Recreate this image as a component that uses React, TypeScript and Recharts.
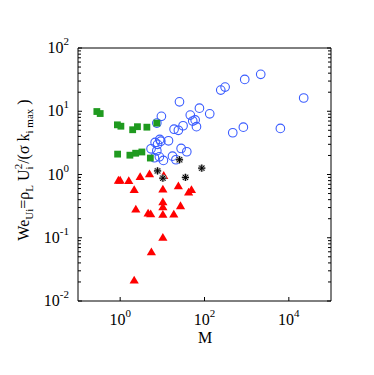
import React from 'react';
import { ScatterChart, Scatter, XAxis, YAxis } from 'recharts';

// green squares
const squareM = [0.28, 0.336, 0.86, 1.04, 1.98, 2.57, 4.3, 7.4, 0.87, 1.7, 2.33, 3.27, 5.2];
const squareWe = [9.9, 9.2, 6.1, 5.8, 5.1, 5.7, 5.6, 6.5, 2.1, 2.02, 2.17, 2.27, 1.82];

// blue open circles
const circleM = [
  25.5, 9.5, 7.4, 75.8, 133, 46, 52.6, 60, 64.5, 31, 19, 24, 243, 308, 900, 2155, 22500,
  468, 835, 6300, 14, 8.7, 6.75, 7.7, 5.4, 7.4, 27.9, 38, 8.5, 6.5, 10.6, 17.4, 21, 9.2,
];
const circleWe = [
  14.1, 8.3, 6.5, 11.2, 9.1, 8.7, 7.0, 7.3, 5.7, 5.9, 5.2, 5.0, 21.6, 24.1, 31.9, 38.3, 16.2,
  4.57, 5.6, 5.35, 3.41, 3.58, 3.21, 3.0, 2.55, 2.37, 2.58, 2.29, 1.9, 1.84, 1.67, 1.95, 1.71, 3.36,
];

// red triangles
const triM = [
  0.91, 1.0, 1.6, 2.98, 4.96, 10.8, 2.15, 10.3, 24, 49, 42, 10.3, 10.3, 27, 2.35, 4.6, 5.3,
  10.3, 18.7, 10.3, 5.5, 2.15,
];
const triWe = [
  0.8, 0.8, 0.79, 0.91, 1.01, 0.95, 0.57, 0.58, 0.65, 0.57, 0.52, 0.365, 0.304, 0.316, 0.279,
  0.241, 0.235, 0.23, 0.233, 0.1, 0.059, 0.021,
];

// black asterisks
const starM = [25.5, 7.7, 10.3, 35.3, 86];
const starWe = [1.71, 1.14, 0.875, 0.9, 1.26];

const xTicks = [1, 100, 10000];
const yMajor = [0.01, 0.1, 1, 10, 100];
const yMinor = yMajor.slice(0, -1).flatMap(d => [2, 3, 4, 5, 6, 7, 8, 9].map(k => d * k));
const yTicks = [...yMajor, ...yMinor];

const FONT = 'Liberation Serif, Times New Roman, serif';
const GREEN = '#1f9a1f';
const BLUE = '#3a5cff';
const RED = '#ff0000';

const zip = (xs: number[], ys: number[]) => xs.map((x, i) => ({ x, y: ys[i] }));

const isDecade = (v: number) => Math.abs(Math.log10(v) - Math.round(Math.log10(v))) < 1e-9;
const expOf = (v: number) => String(Math.round(Math.log10(v)));

const XTick = (props: any, side: 'bottom' | 'top') => {
  const { x, y } = props;
  const dir = side === 'bottom' ? -1 : 1;
  return (
    <g>
      <line x1={x} x2={x} y1={y} y2={y + dir * 4} stroke="#000" />
      {side === 'bottom' && (
        <text x={x} y={y + 24} textAnchor="middle" fontSize={16} fontFamily={FONT} fill="#000">
          10<tspan fontSize={11} dy={-8}>{expOf(props.payload.value)}</tspan>
        </text>
      )}
    </g>
  );
};

const YTick = (props: any, side: 'left' | 'right') => {
  const { x, y } = props;
  const v = props.payload.value;
  const major = isDecade(v);
  const dir = side === 'left' ? 1 : -1;
  return (
    <g>
      <line x1={x} x2={x + dir * (major ? 4 : 3)} y1={y} y2={y} stroke="#000" />
      {side === 'left' && major && (
        <text x={x - 9} y={y + 5} textAnchor="end" fontSize={16} fontFamily={FONT} fill="#000">
          10<tspan fontSize={11} dy={-8}>{expOf(v)}</tspan>
        </text>
      )}
    </g>
  );
};

const Square = (p: any) => (
  <rect x={p.cx - 3.4} y={p.cy - 3.4} width={6.8} height={6.8} fill={GREEN} />
);
const Ring = (p: any) => (
  <circle cx={p.cx} cy={p.cy} r={4.3} fill="none" stroke={BLUE} strokeWidth={1.1} />
);
const Tri = (p: any) => (
  <polygon
    points={`${p.cx},${p.cy - 4.8} ${p.cx + 4.6},${p.cy + 3} ${p.cx - 4.6},${p.cy + 3}`}
    fill={RED}
  />
);
const Star = (p: any) => {
  const { cx, cy } = p;
  const r = 3.6;
  const d = r * 0.72;
  const path = `M${cx - r},${cy}H${cx + r}M${cx},${cy - r}V${cy + r}M${cx - d},${cy - d}L${cx + d},${cy + d}M${cx - d},${cy + d}L${cx + d},${cy - d}`;
  return (
    <g>
      <path d={path} stroke="#aaa" strokeWidth={2.4} />
      <path d={path} stroke="#000" strokeWidth={1} />
    </g>
  );
};

export default function App() {
  return (
    <div style={{ position: 'absolute', left: 0, top: 0, width: 374, height: 375, background: '#fff' }}>
      <ScatterChart width={374} height={375} margin={{ top: 47, right: 42, bottom: 73, left: 77 }}>
        <XAxis
          dataKey="x"
          type="number"
          scale="log"
          domain={[0.1, 100000]}
          allowDataOverflow
          ticks={xTicks}
          interval={0}
          height={1}
          tickSize={0}
          tickMargin={0}
          tickLine={false}
          axisLine={{ stroke: '#000' }}
          tick={(p: any) => XTick(p, 'bottom')}
        />
        <XAxis
          xAxisId="top"
          orientation="top"
          type="number"
          scale="log"
          domain={[0.1, 100000]}
          allowDataOverflow
          ticks={xTicks}
          interval={0}
          height={1}
          tickSize={0}
          tickMargin={0}
          tickLine={false}
          axisLine={{ stroke: '#000' }}
          tick={(p: any) => XTick(p, 'top')}
        />
        <YAxis
          dataKey="y"
          type="number"
          scale="log"
          domain={[0.01, 100]}
          allowDataOverflow
          ticks={yTicks}
          interval={0}
          width={1}
          tickSize={0}
          tickMargin={0}
          tickLine={false}
          axisLine={{ stroke: '#000' }}
          tick={(p: any) => YTick(p, 'left')}
        />
        <YAxis
          yAxisId="right"
          orientation="right"
          type="number"
          scale="log"
          domain={[0.01, 100]}
          allowDataOverflow
          ticks={yTicks}
          interval={0}
          width={1}
          tickSize={0}
          tickMargin={0}
          tickLine={false}
          axisLine={{ stroke: '#000' }}
          tick={(p: any) => YTick(p, 'right')}
        />
        <Scatter data={zip(circleM, circleWe)} shape={Ring} isAnimationActive={false} />
        <Scatter data={zip(squareM, squareWe)} shape={Square} isAnimationActive={false} />
        <Scatter data={zip(triM, triWe)} shape={Tri} isAnimationActive={false} />
        <Scatter data={zip(starM, starWe)} shape={Star} isAnimationActive={false} />
      </ScatterChart>
      <svg
        width={374}
        height={375}
        style={{ position: 'absolute', left: 0, top: 0, pointerEvents: 'none' }}
        fontFamily={FONT}
        fill="#000"
      >
        <text x={205} y={343} textAnchor="middle" fontSize={16}>M</text>
        <text transform="translate(29,170) rotate(-90)" textAnchor="middle" fontSize={16}>
          <tspan>We</tspan>
          <tspan fontSize={11} dy={4}>Ui</tspan>
          <tspan dy={-4}>=ρ</tspan>
          <tspan fontSize={11} dy={4}>L</tspan>
          <tspan dy={-4}>{' U'}</tspan>
          <tspan fontSize={11} dy={4}>i</tspan>
          <tspan fontSize={11} dx={-3} dy={-11}>2</tspan>
          <tspan dy={7}>{'/(σ k'}</tspan>
          <tspan fontSize={11} dy={4}>{'i max'}</tspan>
          <tspan dy={-4}>{' )'}</tspan>
        </text>
      </svg>
    </div>
  );
}
